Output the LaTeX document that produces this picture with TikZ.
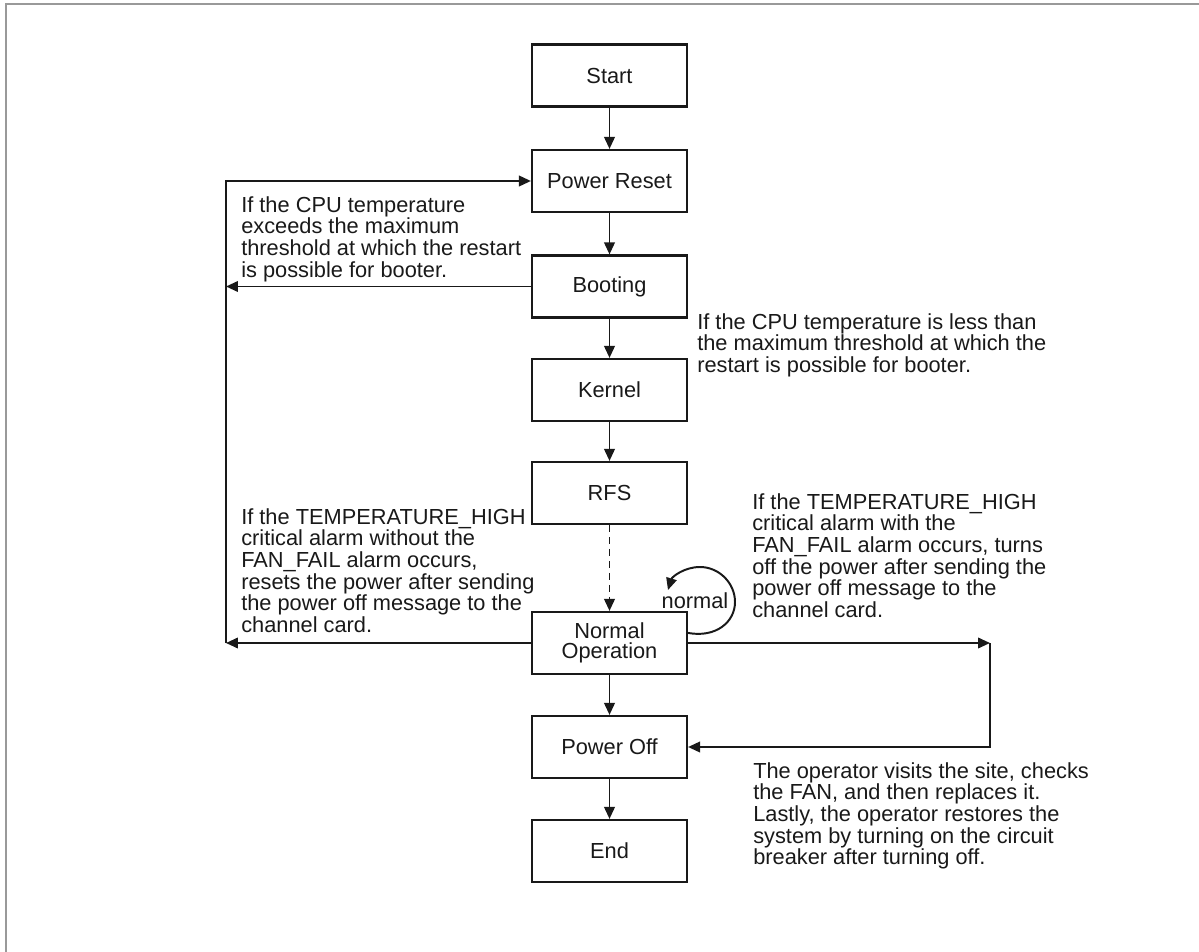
\documentclass[tikz,border=0pt]{standalone}
\usepackage{fontspec}
\setmainfont{Liberation Sans}
\usetikzlibrary{arrows.meta}
\begin{document}
\begin{tikzpicture}[x=0.025cm,y=-0.025cm,
  every node/.style={font=\fontsize{15.5pt}{15.4pt}\selectfont, text=black!90},
  stepbox/.style={draw=black!90, line width=1.5pt, minimum width=3.875cm, minimum height=1.55cm, inner sep=0pt, align=center},
  note/.style={anchor=north west, inner sep=0pt, align=left},
  arr/.style={draw=black!90, line width=1.4pt, -{Triangle[length=8.5pt,width=7.5pt]}},
  frame/.style={draw=black!40, line width=1.6pt}]
\useasboundingbox (0,0) rectangle (1199,952);
% outer frame (top and left edges)
\draw[frame] (6,952) -- (6,4) -- (1199,4);

% main chain of states
\node[stepbox] (st)  at (609.5,75.5) {Start};
\node[stepbox] (pr)  at (609.5,181)  {Power Reset};
\node[stepbox] (bo)  at (609.5,286.5){Booting};
\node[stepbox] (ke)  at (609.5,390)  {Kernel};
\node[stepbox] (rf)  at (609.5,493)  {RFS};
\node[stepbox] (no)  at (609.5,643)  {Normal\\[-1pt]Operation};
\node[stepbox] (po)  at (609.5,747)  {Power Off};
\node[stepbox] (en)  at (609.5,851)  {End};

\draw[arr] (st) -- (pr);
\draw[arr] (pr) -- (bo);
\draw[arr] (bo) -- (ke);
\draw[arr] (ke) -- (rf);
\draw[arr, dash pattern=on 5pt off 3.5pt] (rf) -- (no);
\draw[arr] (no) -- (po);
\draw[arr] (po) -- (en);

% return path on the left
\coordinate (lx) at (226,0);
\draw[arr] (bo.west) -- (bo.west -| lx);
\draw[arr] (no.west) -- (no.west -| lx);
\draw[arr] (no.west -| lx) -- (pr.west -| lx) -- (pr.west);

% path to power off on the right
\coordinate (rx) at (990,0);
\draw[arr] (no.east) -- (no.east -| rx);
\draw[arr] (no.east -| rx) -- (po.east -| rx) -- (po.east);

% self loop on normal operation
\draw[arr] ([yshift=-0.55cm]no.north east) .. controls (716,638) and (735,622) .. (735,602)
  .. controls (735,583) and (719,567) .. (700,567)
  .. controls (684,567) and (672,577) .. (668,590);
\node[inner sep=0pt] (nl) at (695,601) {normal};

% annotations
\node[note] (n1) at (241,196) {If the CPU temperature\\exceeds the maximum\\threshold at which the restart\\is possible for booter.};
\node[note] (n2) at (697,313) {If the CPU temperature is less than\\the maximum threshold at which the\\restart is possible for booter.};
\node[note] (n3) at (241,508) {If the TEMPERATURE\_HIGH\\critical alarm without the\\FAN\_FAIL alarm occurs,\\resets the power after sending\\the power off message to the\\channel card.};
\node[note] (n4) at (752,493) {If the TEMPERATURE\_HIGH\\critical alarm with the\\FAN\_FAIL alarm occurs, turns\\off the power after sending the\\power off message to the\\channel card.};
\node[note] (n5) at (753,762) {The operator visits the site, checks\\the FAN, and then replaces it.\\Lastly, the operator restores the\\system by turning on the circuit\\breaker after turning off.};
\end{tikzpicture}
\end{document}
